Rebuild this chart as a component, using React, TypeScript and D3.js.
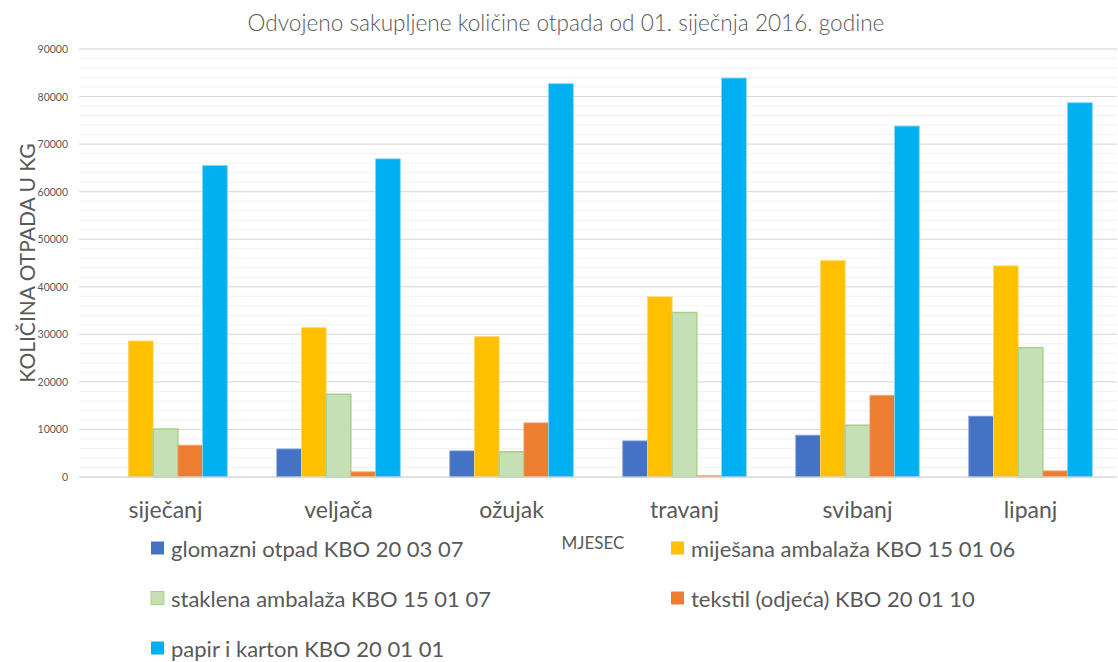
import React from "react";
import * as d3 from "d3";

const months = ["siječanj", "veljača", "ožujak", "travanj", "svibanj", "lipanj"];
const seriesNames = [
  "glomazni otpad KBO 20 03 07",
  "miješana ambalaža KBO 15 01 06",
  "staklena ambalaža KBO 15 01 07",
  "tekstil (odjeća) KBO 20 01 10",
  "papir i karton KBO 20 01 01",
];
const glomazni = [0, 5900, 5500, 7600, 8800, 12800];
const mijesana = [28600, 31400, 29500, 37900, 45500, 44400];
const staklena = [10100, 17400, 5300, 34600, 10900, 27200];
const tekstil = [6700, 1100, 11400, 300, 17200, 1300];
const papir = [65500, 66900, 82700, 83900, 73800, 78700];
const yTickValues = [0, 10000, 20000, 30000, 40000, 50000, 60000, 70000, 80000, 90000];

const seriesValues = [glomazni, mijesana, staklena, tekstil, papir];
const colors = ["#4472C4", "#FFC000", "#C5E0B4", "#ED7D31", "#00B0F0"];
const strokes = ["#8FAADC", "#FFD966", "#A9D18E", "#F4B183", "#7FD7F7"];

const textColor = "#595959";
const font = "Lato, 'Open Sans', sans-serif";

const width = 1118;
const height = 662;
const left = 79;
const right = 1117;
const top = 49;
const bottom = 477;

const App = () => {
  const x0 = d3.scaleBand().domain(months).range([left, right]).paddingInner(0);
  const x1 = d3
    .scaleBand()
    .domain(seriesNames)
    .range([0, x0.bandwidth()])
    .paddingInner(0)
    .paddingOuter(1);
  const y = d3.scaleLinear().domain([0, 90000]).range([bottom, top]);
  const minorTicks = y.ticks(45);

  const legendCols = [151, 671];
  const legendRows = [548, 598, 648];

  return (
    <svg
      width={width}
      height={height}
      style={{ position: "absolute", left: 0, top: 0, background: "#fff" }}
      fontFamily={font}
    >
      <text
        x={566}
        y={22}
        textAnchor="middle"
        dominantBaseline="central"
        fontSize={22.6}
        fontWeight={300}
        fill={textColor}
      >
        Odvojeno sakupljene količine otpada od 01. siječnja 2016. godine
      </text>

      {/* minor grid */}
      {minorTicks.map((t) => (
        <line key={"m" + t} x1={left} x2={right} y1={y(t)} y2={y(t)} stroke="#F2F2F2" strokeWidth={1} />
      ))}
      {/* major grid */}
      {yTickValues.map((t) => (
        <line key={"g" + t} x1={left} x2={right} y1={y(t)} y2={y(t)} stroke="#D9D9D9" strokeWidth={1} />
      ))}
      {yTickValues.map((t) => (
        <text
          key={"t" + t}
          x={68}
          y={y(t)}
          textAnchor="end"
          dominantBaseline="central"
          fontSize={10.5}
          fill={textColor}
        >
          {t}
        </text>
      ))}

      <text
        transform={`translate(26,263) rotate(-90)`}
        textAnchor="middle"
        dominantBaseline="central"
        fontSize={21}
        fill={textColor}
      >
        KOLIČINA OTPADA U KG
      </text>

      {months.map((m, i) => (
        <g key={m} transform={`translate(${x0(m)},0)`}>
          {seriesNames.map((s, j) => {
            const v = seriesValues[j][i];
            if (!v) return null;
            return (
              <rect
                key={s}
                x={x1(s)}
                y={y(v)}
                width={x1.bandwidth()}
                height={bottom - y(v)}
                fill={colors[j]}
                stroke={strokes[j]}
                strokeWidth={j === 2 ? 1.5 : 0.8}
              />
            );
          })}
        </g>
      ))}
      <line x1={left} x2={right} y1={bottom} y2={bottom} stroke="#D9D9D9" strokeWidth={1} />

      {months.map((m) => (
        <text
          key={"x" + m}
          x={x0(m) + x0.bandwidth() / 2}
          y={509}
          textAnchor="middle"
          dominantBaseline="central"
          fontSize={23}
          fill={textColor}
        >
          {m}
        </text>
      ))}

      <text x={593} y={542} textAnchor="middle" dominantBaseline="central" fontSize={17} fill={textColor}>
        MJESEC
      </text>

      {seriesNames.map((s, j) => {
        const lx = legendCols[j % 2];
        const ly = legendRows[Math.floor(j / 2)];
        return (
          <g key={"l" + s} transform={`translate(${lx},${ly})`}>
            <rect x={0} y={-6.5} width={13} height={13} fill={colors[j]} stroke={j === 2 ? strokes[j] : "none"} />
            <text x={20} y={0} dominantBaseline="central" fontSize={22} fill={textColor}>
              {s}
            </text>
          </g>
        );
      })}
    </svg>
  );
};

export default App;
